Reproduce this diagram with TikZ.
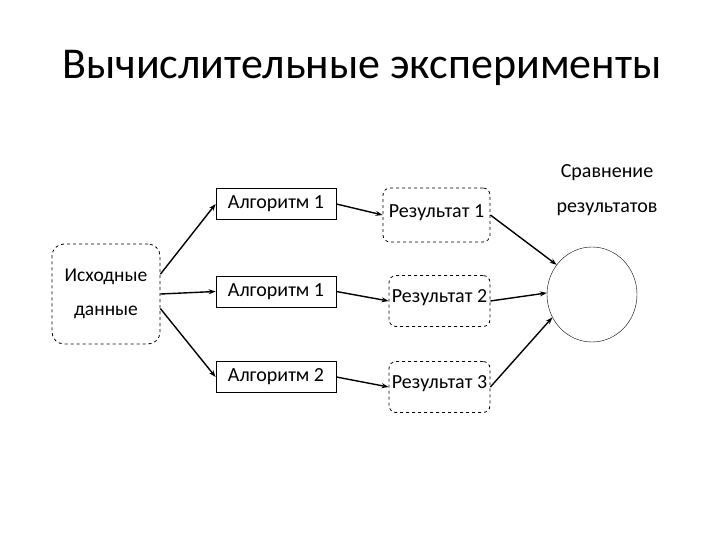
\documentclass[tikz,border=0pt]{standalone}
\usepackage{fontspec}
\setmainfont{Carlito}
\usetikzlibrary{arrows.meta,positioning,shapes.geometric}

\tikzset{
  algbox/.style={draw, thick, minimum width=120pt, minimum height=31pt, inner sep=0pt},
  resbox/.style={draw, dashed, thick, rounded corners=7pt, minimum width=101pt, minimum height=51pt, inner sep=0pt},
  link/.style={->, line width=1.4pt}
}

\begin{document}
\begin{tikzpicture}[x=1pt, y=-1pt, font=\fontsize{20}{24}\selectfont, >={Stealth[length=7pt,width=5pt]}]
    \useasboundingbox (0,0) rectangle (720,540);

    % Заголовок
    \node[anchor=base west, font=\fontsize{44}{48}\selectfont, inner sep=0pt] (title) at (62,79) {Вычислительные эксперименты};

    % Исходные данные
    \node[draw, dashed, thick, rounded corners=12pt, minimum width=108pt, minimum height=100pt, align=center,
          font=\fontsize{19.5}{34}\selectfont] (src) at (106,294) {Исходные\\данные};

    % Алгоритмы
    \node[algbox] (alg1) at (276,204) {Алгоритм 1};
    \node[algbox] (alg2) at (276,291.5) {Алгоритм 1};
    \node[algbox] (alg3) at (276,377) {Алгоритм 2};

    % Результаты
    \node[resbox, minimum width=107pt, minimum height=54pt, text depth=8pt] (res1) at (436.5,215) {Результат 1};
    \node[resbox, text depth=9pt] (res2) at (439.5,301) {Результат 2};
    \node[resbox, text depth=9pt] (res3) at (439.5,387) {Результат 3};

    % Сравнение результатов
    \node[draw, ellipse, minimum width=90pt, minimum height=95pt] (cmp) at (592,294.5) {};
    \node[align=center, font=\fontsize{20}{35}\selectfont] (cmplabel) at (607,190) {Сравнение\\результатов};

    % Стрелки
    \draw[link] (src.20) -- (alg1.west);
    \draw[link] (src.east) -- (alg2.west);
    \draw[link] (src.-15) -- (alg3.west);

    \draw[link] (alg1.east) -- (res1.west);
    \draw[link] (alg2.east) -- (res2.west);
    \draw[link] (alg3.east) -- (res3.west);

    \draw[link] (res1.east) -- (cmp.140);
    \draw[link] (res2.east) -- (cmp.178);
    \draw[link] (res3.east) -- (cmp.210);
\end{tikzpicture}
\end{document}
